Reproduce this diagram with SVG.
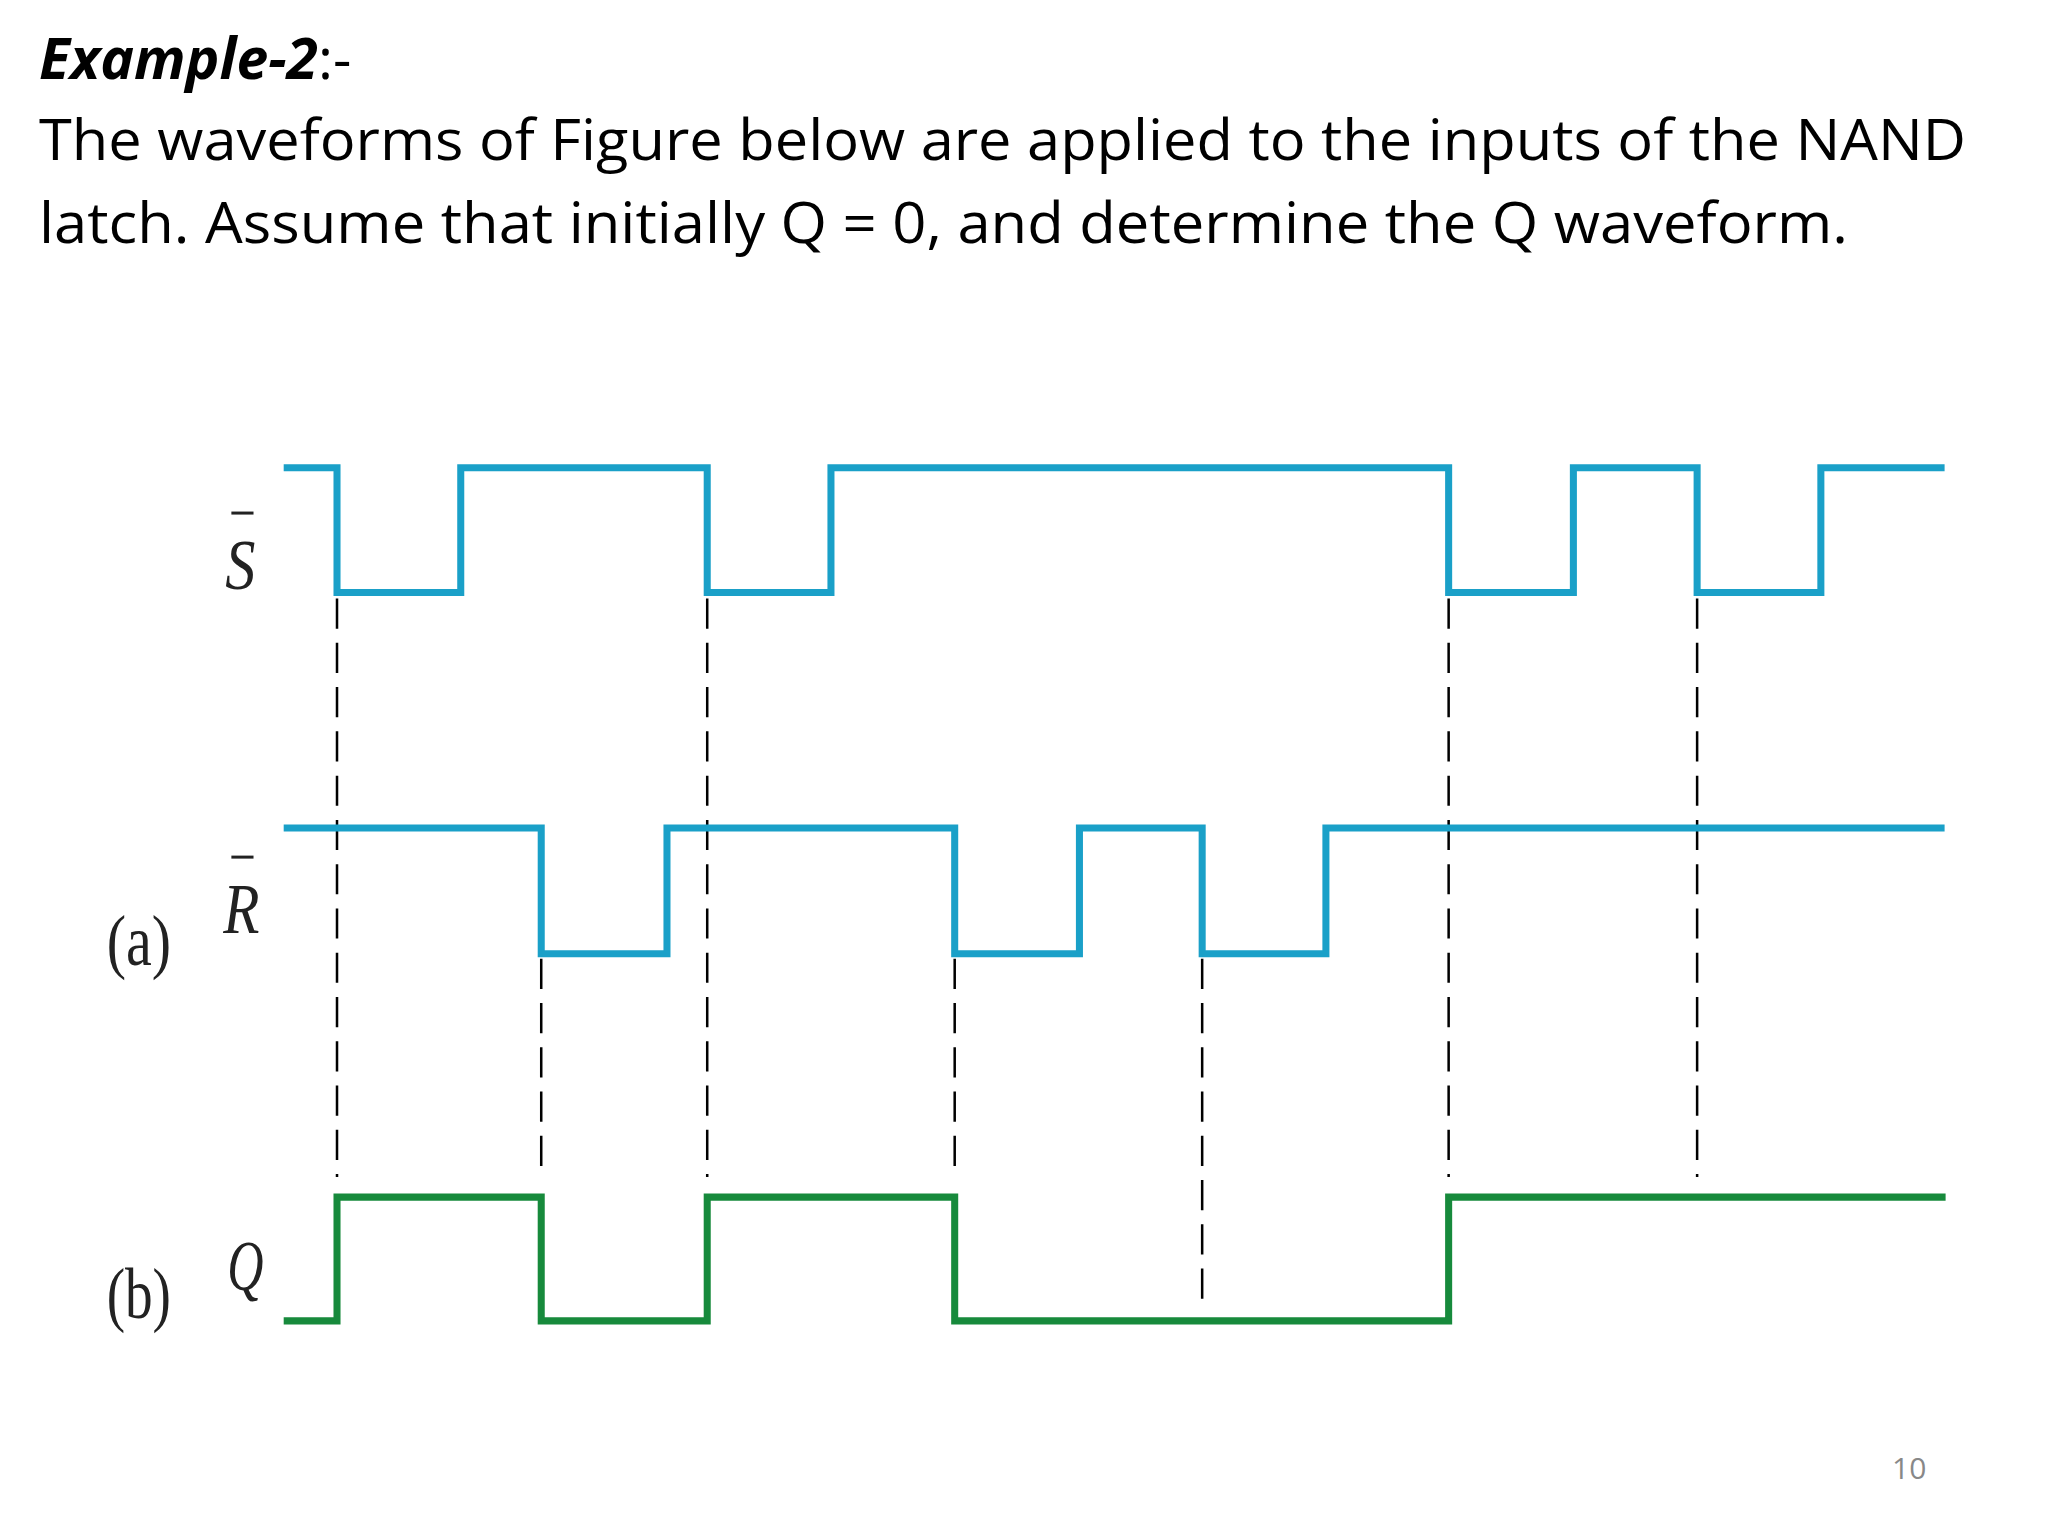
<svg xmlns="http://www.w3.org/2000/svg" width="2048" height="1536" viewBox="0 0 2048 1536">
<style>
.t{font-family:"Open Sans","Liberation Sans",sans-serif;font-size:57px;fill:#000}
.w{fill:none;stroke-width:7;stroke-linejoin:miter}
.b{stroke:#1aa0c8}.g{stroke:#178a3c}
.d{stroke:#000;stroke-width:2.5;stroke-dasharray:30 14;fill:none}
.l{font-family:"Liberation Serif",serif;font-size:72px;fill:#222}
</style>
<rect width="2048" height="1536" fill="#fff"/>
<text class="t" x="39" y="79"><tspan font-weight="bold" font-style="italic">Example-2</tspan>:-</text>
<text class="t" x="39" y="160" textLength="1927" lengthAdjust="spacingAndGlyphs">The waveforms of Figure below are applied to the inputs of the NAND</text>
<text class="t" x="39" y="243" textLength="1809" lengthAdjust="spacingAndGlyphs">latch. Assume that initially Q = 0, and determine the Q waveform.</text>
<g transform="scale(1.006)">
<g id="dashes">
<path class="d" d="M335 595V1170M703 595V1170M1440 595V1170M1687 595V1170M538 953V1170M949 953V1170M1195 953V1294"/>
</g>
<g id="S"><path class="w b" d="M282 465H335V589H458V465H703V589H826V465H1440V589H1564V465H1687V589H1810V465H1933"/></g>
<g id="R"><path class="w b" d="M282 823H538V948H663V823H949V948H1073V823H1195V948H1318V823H1933"/></g>
<g id="Q"><path class="w g" d="M282 1313H335V1190H538V1313H703V1190H949V1313H1440V1190H1934"/></g>
<g id="labels">
<text class="l" x="224" y="585" font-style="italic" textLength="30" lengthAdjust="spacingAndGlyphs">S</text>
<line x1="230" y1="510" x2="252" y2="510" stroke="#222" stroke-width="3"/>
<text class="l" x="222" y="927" font-style="italic" textLength="36" lengthAdjust="spacingAndGlyphs">R</text>
<line x1="230" y1="852" x2="252" y2="852" stroke="#222" stroke-width="3"/>
<text class="l" x="226" y="1282" font-style="italic" textLength="36" lengthAdjust="spacingAndGlyphs">Q</text>
<text class="l" x="106" y="959" textLength="64" lengthAdjust="spacingAndGlyphs">(a)</text>
<text class="l" x="106" y="1310" textLength="64" lengthAdjust="spacingAndGlyphs">(b)</text>
</g>
</g>
<text x="1892" y="1479" font-family="Open Sans,sans-serif" font-size="30" fill="#888">10</text>
</svg>
